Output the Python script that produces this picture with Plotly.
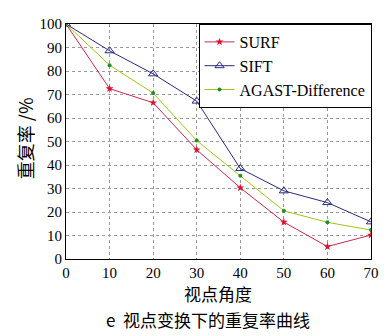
import plotly.graph_objects as go

angles = [0, 10, 20, 30, 40, 50, 60, 70]
surf = [100, 72.5, 66.5, 46.5, 30.3, 15.7, 5.3, 10.2]
sift = [100, 88.6, 78.8, 67.2, 38.5, 29, 24, 15.8]
agast = [100, 82.5, 70.6, 50.4, 35.4, 20.5, 15.6, 12.3]
x_ticks = [0, 10, 20, 30, 40, 50, 60, 70]
y_ticks = [0, 10, 20, 30, 40, 50, 60, 70, 80, 90, 100]

serif = "Liberation Serif"
cjk = "Noto Sans CJK SC"

# page body has an 8px margin; figure is sized to fill the rest of the window
W, H = 379, 328
L, R, T, B = 58, 8, 10, 77
PW, PH = W - L - R, H - T - B


def px(xs):
    return (xs - 8 - L) / PW


def py(ys):
    return (H - B - (ys - 8)) / PH


fig = go.Figure()
fig.add_trace(go.Scatter(x=angles, y=surf, name="SURF", mode="lines+markers",
                         line=dict(color="#c82850", width=1),
                         marker=dict(symbol="star", size=6, color="#e0102e")))
fig.add_trace(go.Scatter(x=angles, y=sift, name="SIFT", mode="lines+markers",
                         line=dict(color="#2a2a80", width=1),
                         marker=dict(symbol="triangle-up-open", size=8, color="#2a2a80", line=dict(width=1))))
fig.add_trace(go.Scatter(x=angles, y=agast, name="AGAST-Difference", mode="lines+markers",
                         line=dict(color="#9cc818", width=1),
                         marker=dict(symbol="circle", size=4, color="#209020")))

axis_common = dict(showline=True, linecolor="black", linewidth=1, mirror=True,
                   showgrid=True, gridcolor="#999999", griddash="dot", gridwidth=1,
                   ticks="", zeroline=False,
                   tickfont=dict(family=serif, size=15, color="black"))

fig.update_layout(
    width=W, height=H,
    margin=dict(l=L, r=R, t=T, b=B),
    plot_bgcolor="white", paper_bgcolor="white",
    font=dict(family=serif),
    xaxis=dict(range=[0, 70], tickvals=x_ticks, **axis_common),
    yaxis=dict(range=[0, 100], tickvals=y_ticks, **axis_common),
    legend=dict(x=px(202), y=py(18), xanchor="left", yanchor="top",
                bordercolor="black", borderwidth=1, bgcolor="white",
                font=dict(family=serif, size=16, color="black"),
                tracegroupgap=0, itemwidth=30),
    showlegend=True,
    annotations=[
        dict(text="重复率 /%", x=px(24), y=py(135), xref="paper", yref="paper", showarrow=False,
             textangle=-90, xanchor="center", yanchor="middle",
             font=dict(family=cjk, size=18, color="black")),
        dict(text="视点角度", x=px(222), y=py(294), xref="paper", yref="paper", showarrow=False,
             xanchor="center", yanchor="middle",
             font=dict(family=cjk, size=17, color="black")),
        dict(text="e  视点变换下的重复率曲线", x=px(212), y=py(321), xref="paper", yref="paper", showarrow=False,
             xanchor="center", yanchor="middle",
             font=dict(family=cjk, size=17, color="black")),
    ],
)

fig.write_html("out.html")
